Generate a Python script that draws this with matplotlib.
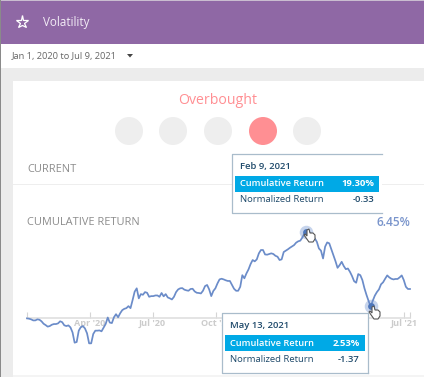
import matplotlib
matplotlib.use("Agg")
import matplotlib.pyplot as plt
import pandas as pd
from matplotlib.patches import Rectangle, Circle, Polygon

plt.rcParams['font.family'] = ['Open Sans', 'DejaVu Sans']

# data, one value every 3 days
values = [
    -0.15, -0.22, -0.37, -0.6, -0.6, -0.37, -0.45, -0.8, -1.35, -1.65,
    -2.0, -1.87, -1.57, -1.42, -1.42, -1.27, -0.8, -1.0, -1.7, -1.87,
    -1.72, -2.17, -3.3, -5.6, -5.45, -2.9, -2.1, -1.87, -2.4, -3.5,
    -5.75, -5.75, -3.65, -2.9, -2.9, -2.85, -3.05, -2.2, -1.4, 0.05,
    -1.1, -1.2, 0.1, 0.8, 0.1, 1.0, 1.7, 2.0, 2.15, 2.6,
    2.15, 3.95, 5.85, 6.6, 4.35, 5.3, 5.15, 5.75, 5.6, 4.7,
    4.85, 4.85, 5.0, 5.0, 4.7, 5.55, 4.8, 5.3, 4.55, 4.35,
    4.1, 4.7, 5.75, 6.35, 6.6, 6.65, 6.3, 6.15, 6.05, 6.45,
    6.5, 5.9, 5.6, 5.55, 5.45, 6.05, 7.1, 7.35, 6.35, 4.85,
    6.0, 6.6, 7.7, 8.6, 8.75, 8.6, 8.4, 8.25, 8.25, 7.35,
    6.5, 6.05, 6.05, 6.95, 9.55, 8.85, 9.95, 10.85, 12.05, 12.95,
    12.65, 13.1, 14.45, 15.2, 15.2, 14.2, 14.15, 14.3, 14.45, 14.3,
    13.9, 13.7, 12.95, 13.1, 14.75, 15.05, 15.35, 15.7, 16.0, 16.3,
    16.85, 17.15, 17.3, 18.0, 18.9, 19.3, 19.15, 18.9, 18.3, 17.8,
    17.05, 15.55, 15.05, 13.3, 15.95, 16.9, 16.7, 15.35, 14.05, 12.7,
    11.2, 11.8, 12.55, 11.6, 10.9, 11.05, 10.3, 9.35, 8.2, 7.85,
    9.8, 9.55, 8.45, 6.6, 5.1, 3.75, 2.53, 3.8, 4.95, 5.75,
    6.35, 7.5, 7.95, 8.75, 9.5, 9.05, 8.75, 8.6, 8.7, 8.7,
    9.05, 9.5, 8.45, 6.95, 6.45, 6.45,
]
dates = pd.date_range("2020-01-01", "2021-07-09", freq="3D")
tick_dates = ["2020-01-01", "2020-04-01", "2020-07-01", "2020-10-01", "2021-07-01", "2021-07-09"]
tick_labels = ["", "Apr '20", "Jul '20", "Oct '20", "Jul '21", ""]
picked = ["2021-02-09", "2021-05-13"]
series = pd.Series(values, index=dates)

W, H = 424, 377
fig = plt.figure(figsize=(W / 100, H / 100), dpi=100, facecolor="#ececec")


def px_axes(zorder):
    a = fig.add_axes([0, 0, 1, 1], zorder=zorder)
    a.set_xlim(0, W)
    a.set_ylim(H, 0)
    a.axis("off")
    return a


def box(a, x0, y0, x1, y1, **kw):
    a.add_patch(Rectangle((x0, y0), x1 - x0, y1 - y0, **kw))


# page around the chart
bg = px_axes(0)
box(bg, 0, 0, W, 1, color="#c9bdd0", lw=0)
box(bg, 0, 1, W, 44, color="#8f68a5", lw=0)
box(bg, 0, 44, W, 68, color="white", lw=0)
box(bg, 0, 0, 1, H, color="#8a8a8a", lw=0)
box(bg, 13, 81, W, 375, color="white", lw=0)
box(bg, 13, 375, W, 377, color="#f4f4f4", lw=0)
bg.plot(22, 21.5, marker="*", ms=9.5, mfc="none", mec="white", mew=0.9)
bg.text(43, 22.5, "Volatility", color="#f3edf6", fontsize=8.4, va="center")
bg.text(12, 56.5, "Jan 1, 2020 to Jul 9, 2021", color="#666666", fontsize=6.7, va="center")
bg.add_patch(Polygon([(127, 54), (133, 54), (130, 57.5)], color="#444444", lw=0))
bg.text(218, 100.5, "Overbought", color="#ff8f93", fontsize=10.2, ha="center", va="center")
for cx in [129, 173, 218, 263, 307]:
    on = cx == 263
    bg.add_patch(Circle((cx, 131), 14, color="#ff8f93" if on else "#eeeeee", lw=0))
bg.text(27, 170, "CURRENT", color="#8c8c8c", fontsize=7.9, va="center")
box(bg, 13, 183.5, W, 185, color="#eeeeee", lw=0)
bg.text(27, 222.5, "CUMULATIVE RETURN", color="#8c8c8c", fontsize=7.95, va="center")
bg.text(410, 223, "6.45%", color="#7a95cc", fontsize=8.6, ha="right", va="center", fontweight="semibold")

# the chart itself
ax = fig.add_axes([27 / W, 1 - 340 / H, 383 / W, 129.2 / H], zorder=1)
ax.patch.set_visible(False)
ax.set_xlim(dates[0], dates[-1])
ax.set_ylim(-5, 24)
for s in ["top", "left", "right"]:
    ax.spines[s].set_visible(False)
ax.spines["bottom"].set_position(("data", 0))
ax.spines["bottom"].set_color("#dddddd")
ax.spines["bottom"].set_linewidth(1.1)
ax.set_yticks([])
ax.set_xticks(pd.to_datetime(tick_dates))
ax.xaxis.set_major_formatter(plt.FixedFormatter(tick_labels))
ax.tick_params(axis="x", direction="in", length=4, width=0.8, color="#d5d5d5",
               labelcolor="#cccccc", labelsize=6.6, pad=1)
for lab in ax.get_xticklabels():
    lab.set_fontweight("bold")
ax.plot(series.index, series.values, color="#6b8cc9", lw=1.25, clip_on=False, zorder=3)
pts = series.loc[pd.to_datetime(picked)]
ax.scatter(pts.index, pts.values, s=95, color="#c6d4ec", lw=0, clip_on=False, zorder=2)
ax.scatter(pts.index, pts.values, s=24, color="#4d76ba", lw=0, clip_on=False, zorder=4)

# tooltips and pointers on top
top = px_axes(2)


def hand(a, x, y):
    shape = [(0, 0), (2, -1), (3, 3), (6, 3), (8, 5), (8, 9), (6, 12), (2, 12), (-3, 5), (-2, 4), (0, 6)]
    a.add_patch(Polygon([(x + p, y + q) for p, q in shape], fc="white", ec="#555555", lw=0.8))


hand(top, 307, 230)
hand(top, 372, 307)


def tooltip(a, x0, y0, x1, y1, hx0, hx1, hy, date, cum, norm, open_right=False):
    box(a, x0, y0, x1, y1, fc="white", ec="none")
    line = "#a9bccb"
    a.plot([x1, x0, x0, x1], [y0, y0, y1, y1], color=line, lw=0.9)
    if not open_right:
        a.plot([x1, x1], [y0, y1], color=line, lw=0.9)
    box(a, hx0, hy, hx1, hy + 15.5, color="#00a9e6", lw=0)
    tx = hx0 + 5
    rx = hx1 - 5
    navy = "#1f4a6b"
    a.text(tx, hy - 10, date, color=navy, fontsize=6.8, fontweight="semibold", va="center")
    a.text(tx, hy + 8, "Cumulative Return", color="white", fontsize=6.7, fontweight="semibold", va="center")
    a.text(rx, hy + 8, cum, color="white", fontsize=6.8, fontweight="bold", va="center", ha="right")
    a.text(tx, hy + 24, "Normalized Return", color=navy, fontsize=6.8, va="center")
    a.text(rx, hy + 24, norm, color=navy, fontsize=6.8, fontweight="semibold", va="center", ha="right")


tooltip(top, 232, 154, 382, 213, 235, 379, 176, "Feb 9, 2021", "19.30%", "-0.33", open_right=True)
tooltip(top, 222, 313, 368, 373, 225, 364.5, 335, "May 13, 2021", "2.53%", "-1.37")

fig.savefig("out.png", dpi=100, facecolor=fig.get_facecolor())
